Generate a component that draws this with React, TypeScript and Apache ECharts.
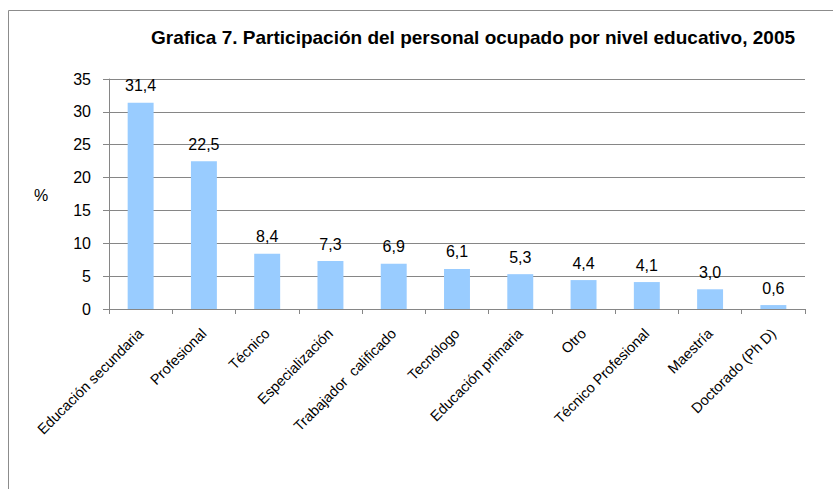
import React, { useEffect, useRef } from "react";
import * as echarts from "echarts";

const categories = [
  "Educación secundaria",
  "Profesional",
  "Técnico",
  "Especialización",
  "Trabajador  calificado",
  "Tecnólogo",
  "Educación primaria",
  "Otro",
  "Técnico Profesional",
  "Maestría",
  "Doctorado (Ph D)",
];
const values = [31.4, 22.5, 8.4, 7.3, 6.9, 6.1, 5.3, 4.4, 4.1, 3.0, 0.6];
const yTicks = [0, 5, 10, 15, 20, 25, 30, 35];
const title = "Grafica 7. Participación del personal ocupado por nivel educativo, 2005";
const yName = "%";

export default function App() {
  const ref = useRef<HTMLDivElement>(null);
  useEffect(() => {
    if (!ref.current) return;
    const chart = echarts.init(ref.current, null, { renderer: "svg" });
    const font = "Liberation Sans, Arial, sans-serif";
    chart.setOption({
      animation: false,
      backgroundColor: "#fff",
      textStyle: { fontFamily: font },
      title: {
        text: title,
        left: 468,
        top: 23,
        textAlign: "center",
        textStyle: { fontFamily: font, fontSize: 19, fontWeight: "bold", color: "#000" },
      },
      graphic: [
        {
          type: "rect",
          shape: { x: 8.5, y: 10.5, width: 900, height: 600 },
          style: { fill: "none", stroke: "#8c8c8c", lineWidth: 1 },
          silent: true,
        },
        {
          type: "text",
          x: 34,
          y: 187,
          style: { text: yName, font: `16px ${font}`, fill: "#000" },
        },
      ],
      grid: { left: 109, right: 28, top: 79, bottom: 180, containLabel: false },
      xAxis: {
        type: "category",
        data: categories,
        axisLine: { lineStyle: { color: "#868686", width: 1 } },
        axisTick: { show: true, length: 5, lineStyle: { color: "#868686" } },
        axisLabel: {
          rotate: 45,
          interval: 0,
          margin: 22,
          fontSize: 14.5,
          color: "#000",
          fontFamily: font,
        },
      },
      yAxis: {
        type: "value",
        min: yTicks[0],
        max: yTicks[yTicks.length - 1],
        interval: 5,
        axisLine: { show: true, lineStyle: { color: "#868686", width: 1 } },
        axisTick: { show: true, length: 6, inside: false, lineStyle: { color: "#868686" } },
        splitLine: { lineStyle: { color: "#868686", width: 1 } },
        axisLabel: { fontSize: 16, color: "#000", fontFamily: font, margin: 18 },
      },
      series: [
        {
          type: "bar",
          data: values,
          barWidth: "41%",
          itemStyle: { color: "#99CCFF" },
          label: {
            show: true,
            position: "top",
            distance: 9,
            fontSize: 16,
            color: "#000",
            fontFamily: font,
            formatter: (p: any) => p.value.toFixed(1).replace(".", ","),
          },
        },
      ],
    });
    return () => chart.dispose();
  }, []);
  return (
    <div
      ref={ref}
      style={{ position: "fixed", left: 0, top: 0, width: 833, height: 489 }}
    />
  );
}
